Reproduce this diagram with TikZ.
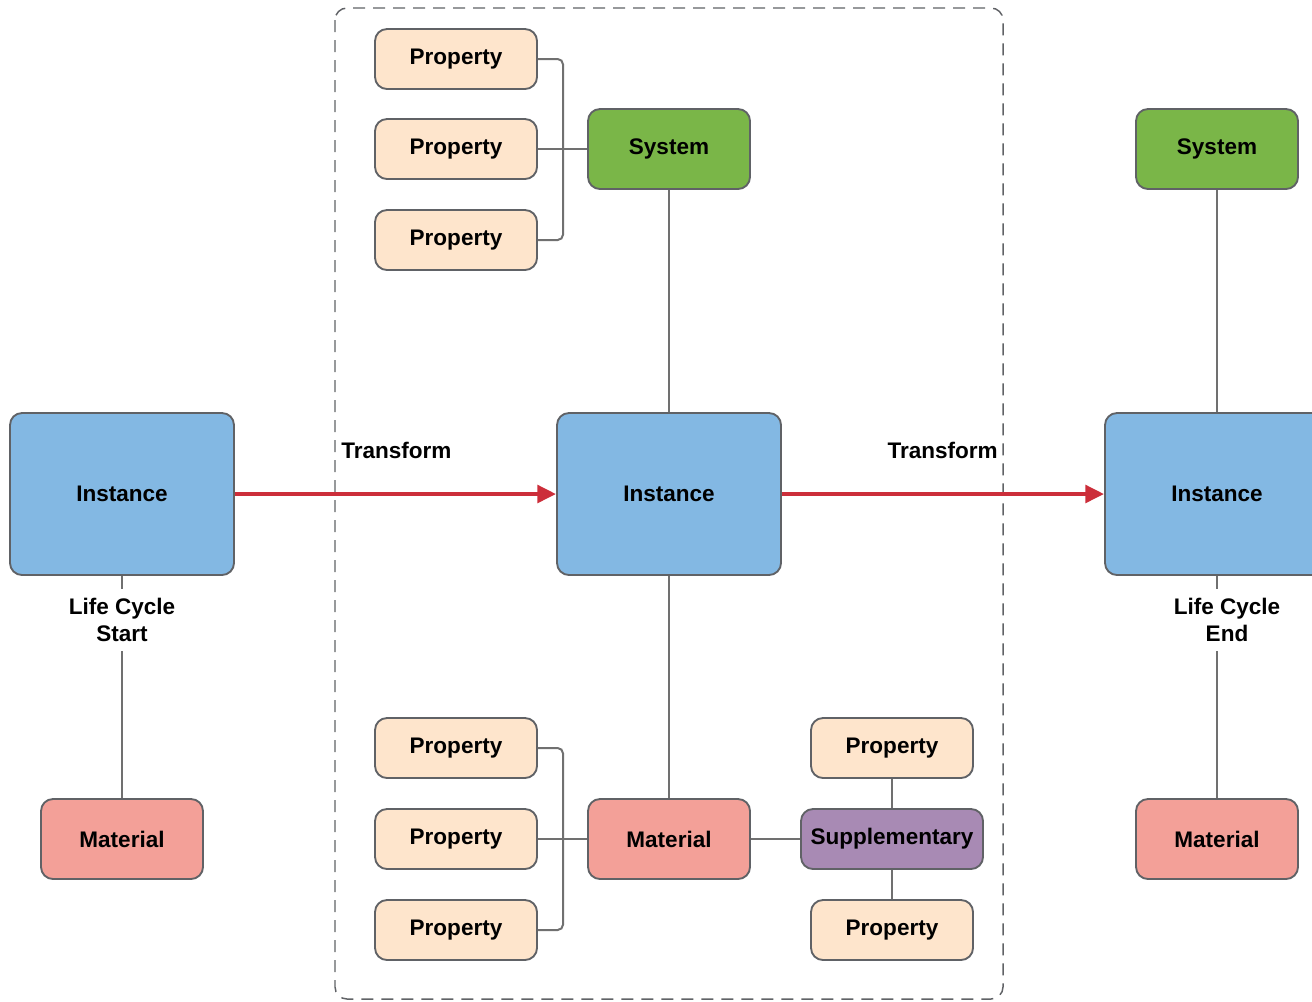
\documentclass[tikz,border=0pt]{standalone}
\usepackage{fontspec}
\usepackage{tikz}
\usetikzlibrary{arrows.meta}
\usetikzlibrary{positioning}
\setmainfont{Liberation Sans}

\definecolor{instfill}{RGB}{131,184,227}
\definecolor{matfill}{RGB}{243,160,152}
\definecolor{sysfill}{RGB}{122,182,72}
\definecolor{propfill}{RGB}{254,229,204}
\definecolor{suppfill}{RGB}{168,138,180}
\definecolor{edgegray}{RGB}{96,98,102}
\definecolor{linegray}{RGB}{112,112,112}
\definecolor{arrowred}{RGB}{204,46,58}

\begin{document}
\begin{tikzpicture}[x=0.75pt,y=-0.75pt,
  every node/.style={font=\fontsize{16.9}{20}\selectfont\bfseries},
  box/.style={draw=edgegray,line width=1.4pt,rounded corners=9pt,align=center,inner sep=0pt},
  instance/.style={box,fill=instfill,minimum width=168pt,minimum height=121.5pt},
  material/.style={box,fill=matfill,minimum width=121.5pt,minimum height=60pt},
  system/.style={box,fill=sysfill,minimum width=121.5pt,minimum height=60pt},
  property/.style={box,fill=propfill,minimum width=121.5pt,minimum height=45pt},
  supplement/.style={box,fill=suppfill,minimum width=136.5pt,minimum height=45pt},
  conn/.style={draw=linegray,line width=1.5pt},
  transform/.style={draw=arrowred,line width=3.2pt,-{Triangle[length=14pt,width=13pt]}},
  phase/.style={align=center,inner xsep=0pt,inner ysep=7pt}]
\useasboundingbox (0,0) rectangle (1312,1001);
%%
\draw[edgegray,line width=1.1pt,dash pattern=on 9pt off 6pt,rounded corners=9pt]
  (335,8) rectangle (1003,999);
%% instances
\node (I1) at (122,494) [instance] {Instance};
\node (I2) at (669,494) [instance] {Instance};
\node (I3) at (1217,494) [instance] {Instance};
%% systems and materials
\node (S2) at (669,149) [system] {System};
\node (S3) at (1217,149) [system] {System};
\node (M1) at (122,839) [material] {Material};
\node (M2) at (669,839) [material] {Material};
\node (M3) at (1217,839) [material] {Material};
\node (X2) at (892,839) [supplement] {Supplementary};
%% properties
\node (P1) at (456,59) [property] {Property};
\node (P2) at (456,149) [property] {Property};
\node (P3) at (456,240) [property] {Property};
\node (P4) at (456,748) [property] {Property};
\node (P5) at (456,839) [property] {Property};
\node (P6) at (456,930) [property] {Property};
\node (P7) at (892,748) [property] {Property};
\node (P8) at (892,930) [property] {Property};
%% labels
\node (LS) at (122,620) [phase] {Life Cycle\\Start};
\node (LE) at (1227,620) [phase] {Life Cycle\\End};
\node (T1) at (341,450) [anchor=west,inner sep=0pt] {Transform};
\node (T2) at (998,450) [anchor=east,inner sep=0pt] {Transform};
\coordinate (JT) at (563,149);
\coordinate (JB) at (563,839);
%% connectors
\draw[conn,rounded corners=4pt] (P1.east) -| (JT) |- (P3.east);
\draw[conn] (P2.east) -- (S2.west);
\draw[conn,rounded corners=4pt] (P4.east) -| (JB) |- (P6.east);
\draw[conn] (P5.east) -- (M2.west);
\draw[conn] (S2) -- (I2);
\draw[conn] (I2) -- (M2);
\draw[conn] (M2) -- (X2);
\draw[conn] (X2) -- (P7);
\draw[conn] (X2) -- (P8);
\draw[conn] (S3) -- (I3);
\draw[conn] (I1.south) -- (LS.north);
\draw[conn] (LS.south) -- (M1.north);
\draw[conn] (I3.south) -- (I3.south |- LE.north);
\draw[conn] (I3.south |- LE.south) -- (M3.north);
\draw[transform] (I1.east) -- (I2.west);
\draw[transform] (I2.east) -- (I3.west);
%
\end{tikzpicture}
\end{document}
